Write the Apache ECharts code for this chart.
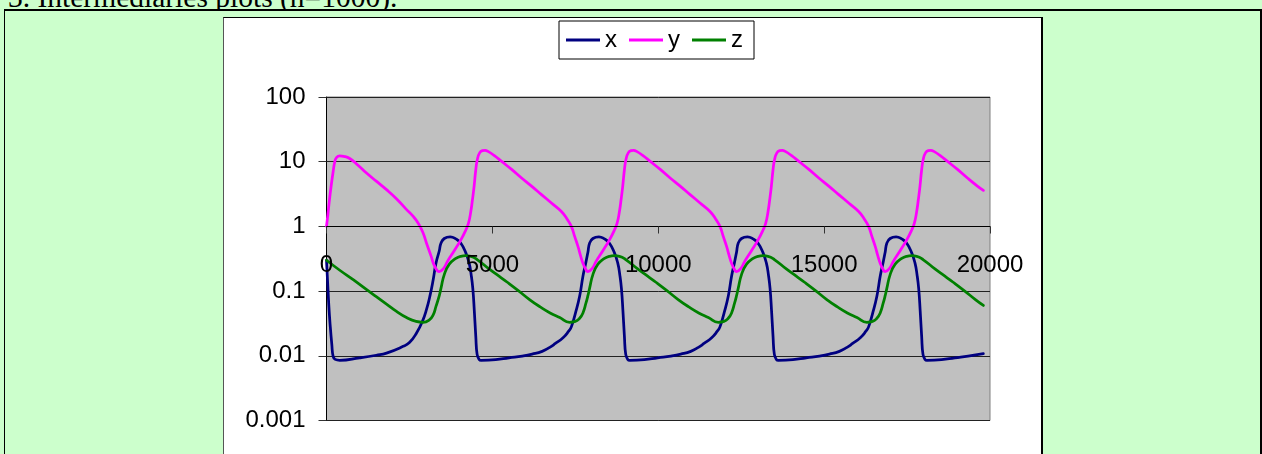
<!DOCTYPE html>
<html>
<head>
<meta charset="utf-8">
<script src="https://cdn.jsdelivr.net/npm/echarts@6/dist/echarts.min.js"></script>
<style>
html,body{margin:0;padding:0;background:#CCFFCC;width:1262px;height:454px;overflow:hidden;}
.abs{position:absolute;}
</style>
</head>
<body>
<div class="abs" style="left:0;top:0;width:1262px;height:9px;overflow:hidden;">
  <div class="abs" style="left:8px;top:-18px;font-family:'Liberation Serif';font-size:29.5px;line-height:30px;white-space:nowrap;color:#000;">3. Intermediaries plots (n=1000).</div>
</div>
<div class="abs" style="left:4px;top:9px;width:1258px;height:2px;background:#000;"></div>
<div class="abs" style="left:4px;top:9px;width:1px;height:445px;background:#000;"></div>
<div class="abs" style="left:1260px;top:9px;width:2px;height:445px;background:#000;"></div>
<div class="abs" style="left:223px;top:17px;width:817px;height:450px;background:#fff;border-top:1px solid #000;border-left:1px solid #555;border-right:2px solid #000;"></div>
<div id="chart" class="abs" style="left:0;top:0;width:1262px;height:454px;"></div>
<script>
// Tick values on the log axis and x axis
const yTicks = [0.001, 0.01, 0.1, 1, 10, 100];
const xTicks = [0, 5000, 10000, 15000, 20000];
const seriesNames = ['x', 'y', 'z'];

// x (navy) : [time, value]
const xData = [
[0,0.30],[30,0.15],[70,0.06],[110,0.03],[160,0.015],[200,0.0098],[260,0.0088],[400,0.0085],[1000,0.0093],[1500,0.0102],[1809,0.011],[2311,0.014],[2500,0.016],[2714,0.0225],[2900,0.035],[3015,0.052],[3120,0.085],[3216,0.15],[3300,0.27],
[3400,0.42],[3450,0.55],[3550,0.65],[3730,0.69],[3900,0.64],[4050,0.55],[4200,0.39],[4300,0.27],[4360,0.18],[4410,0.11],[4455,0.05],[4500,0.02],[4540,0.0105],[4600,0.0088],[4660,0.0085],[5100,0.0087],[5500,0.0093],[5900,0.0099],[6200,0.0106],[6500,0.0117],[6730,0.0135],[6900,0.0155],[7130,0.019],[7300,0.024],[7380,0.028],[7500,0.045],[7630,0.083],[7730,0.17],[7820,0.28],
[7880,0.40],[7930,0.55],[8030,0.65],[8210,0.69],[8380,0.64],[8530,0.55],[8680,0.39],[8780,0.27],[8840,0.18],[8890,0.11],[8935,0.05],[8980,0.02],[9020,0.0105],[9080,0.0088],[9140,0.0085],[9580,0.0087],[9980,0.0093],[10380,0.0099],[10680,0.0106],[10980,0.0117],[11210,0.0135],[11380,0.0155],[11610,0.019],[11780,0.024],[11860,0.028],[11980,0.045],[12110,0.083],[12210,0.17],[12300,0.28],
[12360,0.40],[12410,0.55],[12510,0.65],[12690,0.69],[12860,0.64],[13010,0.55],[13160,0.39],[13260,0.27],[13320,0.18],[13370,0.11],[13415,0.05],[13460,0.02],[13500,0.0105],[13560,0.0088],[13620,0.0085],[14060,0.0087],[14460,0.0093],[14860,0.0099],[15160,0.0106],[15460,0.0117],[15690,0.0135],[15860,0.0155],[16090,0.019],[16260,0.024],[16340,0.028],[16460,0.045],[16590,0.083],[16690,0.17],[16780,0.28],
[16840,0.40],[16890,0.55],[16990,0.65],[17170,0.69],[17340,0.64],[17490,0.55],[17640,0.39],[17740,0.27],[17800,0.18],[17850,0.11],[17895,0.05],[17940,0.02],[17980,0.0105],[18040,0.0088],[18100,0.0085],[18540,0.0087],[18940,0.0093],[19340,0.0099],[19800,0.0108]
];

// y (magenta) : [time, value]
const yData = [
[0,1.0],[40,1.5],[90,2.6],[140,4.2],[200,7.0],[250,10.0],[300,11.6],[400,12.3],[520,12.1],[700,11.2],[950,8.8],[1206,6.7],[1500,5.0],[1809,3.7],[2100,2.7],[2400,1.85],[2600,1.45],[2750,1.15],[2900,0.82],[3015,0.55],[3150,0.35],[3265,0.24],
[3400,0.20],[3520,0.22],[3650,0.29],[3850,0.42],[4050,0.62],[4200,0.88],[4280,1.12],[4350,1.7],[4400,2.6],[4450,4.2],[4500,7.5],[4550,11],[4620,13.8],[4700,14.8],[4780,15],[4880,14.3],[5050,12.5],[5280,10.1],[5580,7.6],[5880,5.6],[6180,4.2],[6480,3.1],[6780,2.3],[7080,1.7],[7250,1.3],[7380,1.0],[7480,0.7],[7580,0.49],[7660,0.35],[7730,0.27],[7810,0.22],
[7880,0.20],[8000,0.22],[8130,0.29],[8330,0.42],[8530,0.62],[8680,0.88],[8760,1.12],[8830,1.7],[8880,2.6],[8930,4.2],[8980,7.5],[9030,11],[9100,13.8],[9180,14.8],[9260,15],[9360,14.3],[9530,12.5],[9760,10.1],[10060,7.6],[10360,5.6],[10660,4.2],[10960,3.1],[11260,2.3],[11560,1.7],[11730,1.3],[11860,1.0],[11960,0.7],[12060,0.49],[12140,0.35],[12210,0.27],[12290,0.22],
[12360,0.20],[12480,0.22],[12610,0.29],[12810,0.42],[13010,0.62],[13160,0.88],[13240,1.12],[13310,1.7],[13360,2.6],[13410,4.2],[13460,7.5],[13510,11],[13580,13.8],[13660,14.8],[13740,15],[13840,14.3],[14010,12.5],[14240,10.1],[14540,7.6],[14840,5.6],[15140,4.2],[15440,3.1],[15740,2.3],[16040,1.7],[16210,1.3],[16340,1.0],[16440,0.7],[16540,0.49],[16620,0.35],[16690,0.27],[16770,0.22],
[16840,0.20],[16960,0.22],[17090,0.29],[17290,0.42],[17490,0.62],[17640,0.88],[17720,1.12],[17790,1.7],[17840,2.6],[17890,4.2],[17940,7.5],[17990,11],[18060,13.8],[18140,14.8],[18220,15],[18320,14.3],[18490,12.5],[18720,10.1],[19020,7.6],[19320,5.6],[19620,4.2],[19800,3.6]
];

// z (green) : [time, value]
const zData = [
[0,0.30],[400,0.21],[804,0.15],[1200,0.106],[1500,0.082],[1809,0.063],[2100,0.049],[2412,0.039],[2700,0.034],[2914,0.033],[3100,0.036],[3216,0.043],[3300,0.058],
[3400,0.085],[3450,0.11],[3550,0.18],[3700,0.26],[3900,0.32],[4050,0.345],[4200,0.352],[4350,0.345],[4550,0.305],[4900,0.22],[5200,0.17],[5450,0.137],[5800,0.1],[6120,0.074],[6440,0.057],[6740,0.046],[7030,0.039],[7330,0.033],[7500,0.034],[7630,0.038],[7730,0.046],[7820,0.065],
[7880,0.085],[7930,0.11],[8030,0.18],[8180,0.26],[8380,0.32],[8530,0.345],[8680,0.352],[8830,0.345],[9030,0.305],[9380,0.22],[9680,0.17],[9930,0.137],[10280,0.1],[10600,0.074],[10920,0.057],[11220,0.046],[11510,0.039],[11810,0.033],[11980,0.034],[12110,0.038],[12210,0.046],[12300,0.065],
[12360,0.085],[12410,0.11],[12510,0.18],[12660,0.26],[12860,0.32],[13010,0.345],[13160,0.352],[13310,0.345],[13510,0.305],[13860,0.22],[14160,0.17],[14410,0.137],[14760,0.1],[15080,0.074],[15400,0.057],[15700,0.046],[15990,0.039],[16290,0.033],[16460,0.034],[16590,0.038],[16690,0.046],[16780,0.065],
[16840,0.085],[16890,0.11],[16990,0.18],[17140,0.26],[17340,0.32],[17490,0.345],[17640,0.352],[17790,0.345],[17990,0.305],[18340,0.22],[18640,0.17],[18890,0.137],[19240,0.1],[19560,0.074],[19800,0.06]
];

const colors = ['#000080', '#FF00FF', '#008000'];
const FONT = 'Liberation Sans, Arial, sans-serif';

const chart = echarts.init(document.getElementById('chart'), null, {renderer: 'canvas'});
function mkSeries(name, data, color) {
  return {
    name: name, type: 'line', data: data, symbol: 'none', showSymbol: false,
    smooth: 0.5, clip: true, z: 2,
    lineStyle: {color: color, width: 2.75, cap: 'round', join: 'round'}, itemStyle: {color: color}
  };
}
const option = {
  animation: false,
  backgroundColor: 'transparent',
  legend: {
    show: true, left: 559, top: 21, orient: 'horizontal',
    data: seriesNames.map(n => ({name: n, icon: 'rect'})),
    padding: [7, 11, 7, 7], itemGap: 12, itemWidth: 34, itemHeight: 3,
    borderColor: '#000', borderWidth: 1, backgroundColor: '#fff', borderRadius: 0,
    textStyle: {fontSize: 24, color: '#000', fontFamily: FONT}
  },
  grid: {left: 326.5, top: 97, width: 663.5, height: 323.5, show: true,
         backgroundColor: '#C0C0C0', borderColor: '#808080', borderWidth: 1, containLabel: false},
  xAxis: {
    type: 'value', min: xTicks[0], max: xTicks[xTicks.length-1], interval: xTicks[1]-xTicks[0],
    offset: -194, z: 5,
    axisLine: {show: true, onZero: false, lineStyle: {color: '#000', width: 1}},
    axisTick: {show: true, length: 7, lineStyle: {color: '#333'}},
    axisLabel: {show: true, fontSize: 24, color: '#000', fontFamily: FONT, margin: 27,
                showMinLabel: true, showMaxLabel: true, hideOverlap: false,
                formatter: v => String(v)},
    splitLine: {show: false}
  },
  yAxis: {
    type: 'log', logBase: 10, min: yTicks[0], max: yTicks[yTicks.length-1],
    axisLine: {show: true, lineStyle: {color: '#000', width: 1}},
    axisTick: {show: true, length: 8, lineStyle: {color: '#333'}},
    axisLabel: {show: true, fontSize: 24, color: '#000', fontFamily: FONT, margin: 21,
                formatter: v => String(Number(Number(v).toPrecision(3)))},
    splitLine: {show: true, lineStyle: {color: '#222', width: 1}},
    minorTick: {show: false}, minorSplitLine: {show: false}
  },
  series: [
    mkSeries(seriesNames[0], xData, colors[0]),
    mkSeries(seriesNames[1], yData, colors[1]),
    mkSeries(seriesNames[2], zData, colors[2])
  ]
};
chart.setOption(option);
</script>
</body>
</html>
